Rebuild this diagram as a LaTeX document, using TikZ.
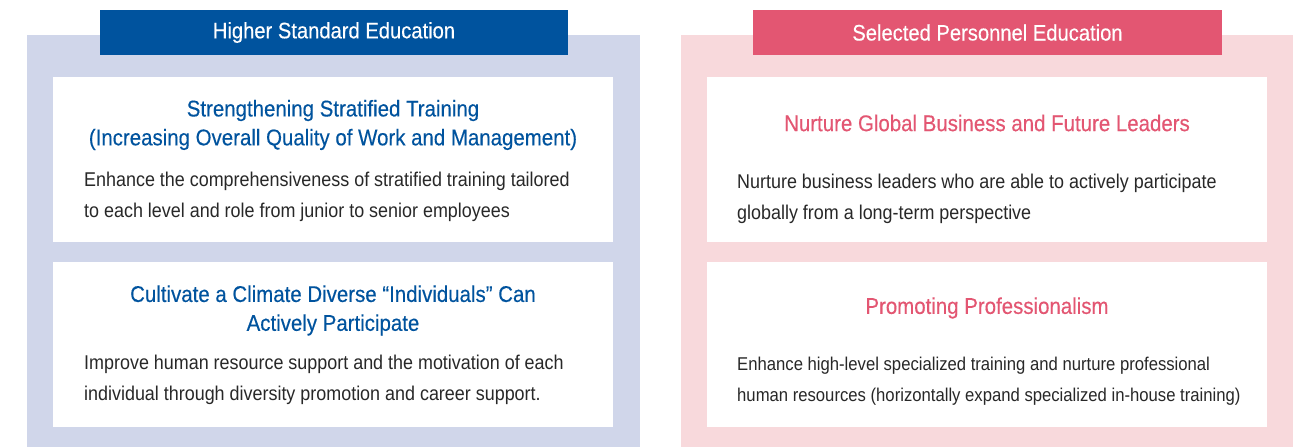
\documentclass[tikz,border=0pt]{standalone}
\usepackage{fontspec}
\setmainfont{Liberation Sans}[FakeStretch=0.9]
\newfontfamily\medfont{Liberation Sans}[FakeStretch=0.9, FakeBold=0.3]
\definecolor{hsblue}{RGB}{0, 83, 158}
\definecolor{hslav}{RGB}{208, 214, 234}
\definecolor{sppink}{RGB}{227, 86, 114}
\definecolor{sprose}{RGB}{248, 217, 220}
\definecolor{dgray}{RGB}{40, 40, 40}
\tikzset{
  panel/.style = {inner sep = 0pt, outer sep = 0pt},
  tab/.style = {inner sep = 0pt, text = white, font = \medfont\fontsize{22.5}{26}\selectfont},
  card/.style = {fill = white, inner sep = 0pt, minimum width = 560bp, minimum height = 165bp},
  ttl/.style = {align = center, inner sep = 0pt, font = \medfont\fontsize{22.8}{29}\selectfont},
  txt/.style = {align = left, anchor = west, inner sep = 0pt, text = dgray, font = \fontsize{20}{31}\selectfont}
}
\begin{document}
\begin{tikzpicture}[x = 1bp, y = -1bp]
			\useasboundingbox (0,0) rectangle (1293,447);
			\node (lp) at (333.5,241) [panel, fill = hslav, minimum width = 613bp, minimum height = 412bp] {};
			\node (rp) at (987,241) [panel, fill = sprose, minimum width = 612bp, minimum height = 412bp] {};
			\node (lh) at (334,32.5) [tab, fill = hsblue, minimum width = 468bp, minimum height = 45bp] {Higher Standard Education};
			\node (rh) at (987.5,32.5) [tab, fill = sppink, minimum width = 469bp, minimum height = 45bp] {Selected Personnel Education};
			\node (l1) at (333,159.5) [card] {};
			\node (l2) at (333,344.5) [card] {};
			\node (r1) at (987,159.5) [card] {};
			\node (r2) at (987,344.5) [card] {};
			\node (l1t) at (333,125) [ttl, text = hsblue] {Strengthening Stratified Training\\(Increasing Overall Quality of Work and Management)};
			\node (l1b) at (84,196.5) [txt] {Enhance the comprehensiveness of stratified training tailored\\to each level and role from junior to senior employees};
			\node (l2t) at (333,310.5) [ttl, text = hsblue] {Cultivate a Climate Diverse “Individuals” Can\\Actively Participate};
			\node (l2b) at (84,379.5) [txt] {Improve human resource support and the motivation of each\\individual through diversity promotion and career support.};
			\node (r1t) at (987,123) [ttl, text = sppink] {Nurture Global Business and Future Leaders};
			\node (r1b) at (737,199) [txt] {Nurture business leaders who are able to actively participate\\globally from a long-term perspective};
			\node (r2t) at (987,308) [ttl, text = sppink] {Promoting Professionalism};
			\node (r2b) at (737,381) [txt, font = \fontsize{18.6}{31}\selectfont] {Enhance high-level specialized training and nurture professional\\human resources (horizontally expand specialized in-house training)};
			\end{tikzpicture}
\end{document}
